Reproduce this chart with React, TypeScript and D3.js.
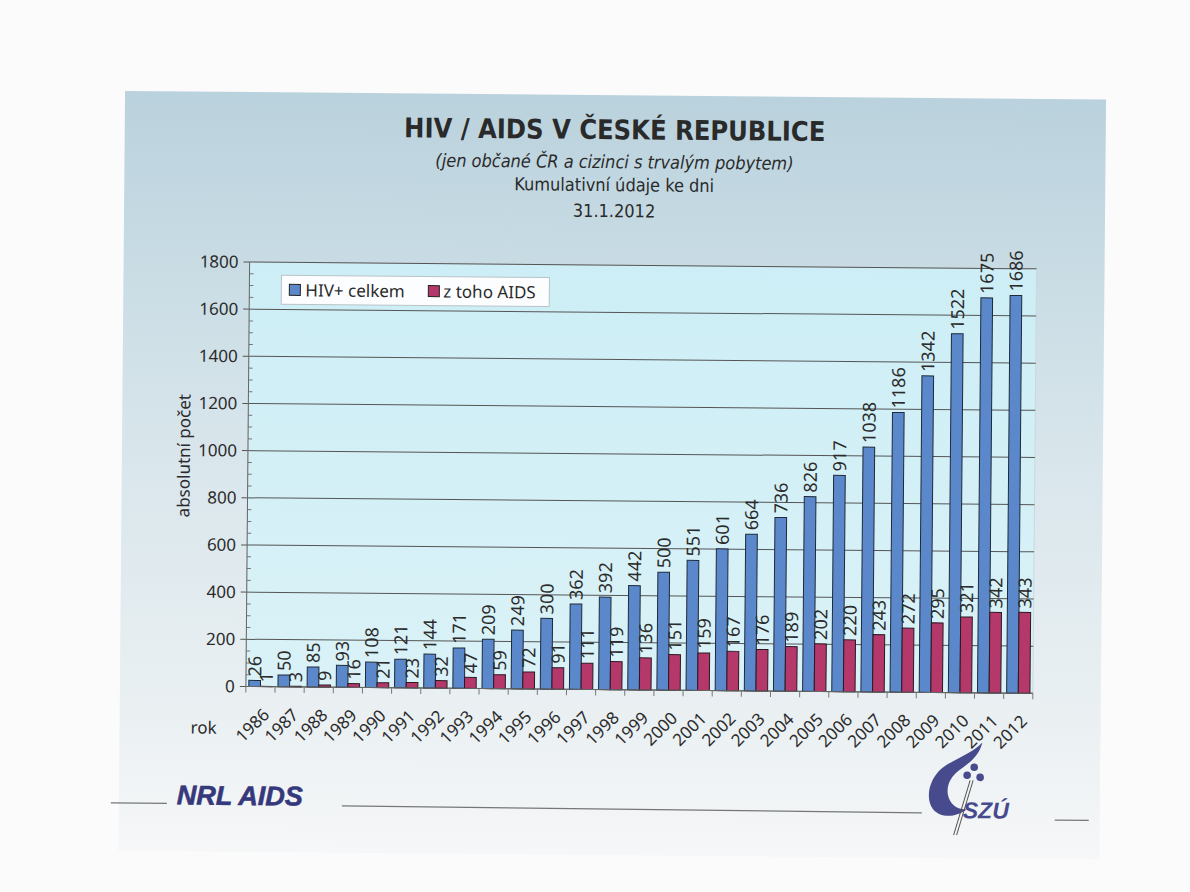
import React from "react";
import * as d3 from "d3";

const years = ["1986","1987","1988","1989","1990","1991","1992","1993","1994","1995","1996","1997","1998","1999","2000","2001","2002","2003","2004","2005","2006","2007","2008","2009","2010","2011","2012"];
const hivTotal = [26,50,85,93,108,121,144,171,209,249,300,362,392,442,500,551,601,664,736,826,917,1038,1186,1342,1522,1675,1686];
const aidsTotal = [1,3,9,16,21,23,32,47,59,72,91,111,119,136,151,159,167,176,189,202,220,243,272,295,321,342,343];
const yTicks = [0,200,400,600,800,1000,1200,1400,1600,1800];
const seriesNames = ["HIV+ celkem", "z toho AIDS"];
const seriesColors = ["#5b87cb", "#b5386b"];

const W = 1190, H = 892;
const PL = 248, PR = 1035, PT = 265, PB = 689.5;

export default function App() {
  const x = d3.scaleBand<string>().domain(years).range([PL, PR]).paddingInner(0.2).paddingOuter(0.1);
  const inner = d3.scaleBand<string>().domain(["hiv", "aids"]).range([0, x.bandwidth()]);
  const y = d3.scaleLinear().domain([0, 1800]).range([PB, PT]);
  const minor = d3.range(0, 1801, 50).filter((v) => v % 200 !== 0);
  const step = x.step();
  const font = "'Noto Sans', 'Open Sans', sans-serif";
  const condensed = "'DejaVu Sans Condensed', 'Liberation Sans Narrow', 'Noto Sans', sans-serif";
  const textCol = "#2b2b2b";

  return (
    <svg width={W} height={H} style={{ position: "absolute", left: 0, top: 0, background: "#fbfbfb" }}>
      <defs>
        <linearGradient id="card" x1="0" y1="0" x2="0" y2="1">
          <stop offset="0" stopColor="#bad2dd" />
          <stop offset="0.45" stopColor="#d7e5eb" />
          <stop offset="0.85" stopColor="#ecf1f3" />
          <stop offset="1" stopColor="#f6f7f8" />
        </linearGradient>
        <linearGradient id="plot" x1="0" y1="0" x2="0" y2="1">
          <stop offset="0" stopColor="#cdeef6" />
          <stop offset="1" stopColor="#daf2f7" />
        </linearGradient>
      </defs>
      <rect x={0} y={0} width={W} height={H} fill="#fbfbfb" />
      <g transform="rotate(0.5 595 446)">
        <rect x={122} y={95} width={981} height={760} fill="url(#card)" />
        {/* Titles */}
        <text x={612} y={139} textAnchor="middle" fontFamily={condensed} fontWeight="bold" fontSize={27} fill="#2a2a2a">HIV / AIDS V ČESKÉ REPUBLICE</text>
        <text x={612} y={168} textAnchor="middle" fontFamily={condensed} fontStyle="italic" fontSize={18} fill="#2a2a2a">(jen občané ČR a cizinci s trvalým pobytem)</text>
        <text x={612} y={191} textAnchor="middle" fontFamily={condensed} fontSize={18} fill="#2a2a2a">Kumulativní údaje ke dni</text>
        <text x={612} y={217} textAnchor="middle" fontFamily={condensed} fontSize={18} fill="#2a2a2a">31.1.2012</text>

        {/* Plot area */}
        <rect x={PL} y={PT} width={PR - PL} height={PB - PT} fill="url(#plot)" stroke="#c9d9de" strokeWidth={1} />
        {yTicks.map((t) => (
          <g key={t}>
            <line x1={PL - 6} x2={PR} y1={y(t)} y2={y(t)} stroke="#555" strokeWidth={1} />
            <text x={PL - 11} y={y(t)} dy="0.35em" textAnchor="end" fontFamily={font} fontSize={17} fill={textCol}>{t}</text>
          </g>
        ))}
        {minor.map((t) => (
          <line key={t} x1={PL} x2={PL + 4} y1={y(t)} y2={y(t)} stroke="#777" strokeWidth={1} />
        ))}
        <line x1={PL} x2={PL} y1={PT} y2={PB} stroke="#666" strokeWidth={1} />

        {/* Bars */}
        {years.map((yr, i) => {
          const x0 = x(yr)!;
          const bw = inner.bandwidth();
          const xb = x0 + inner("hiv")!;
          const xa = x0 + inner("aids")!;
          return (
            <g key={yr}>
              <rect x={xb} y={y(hivTotal[i])} width={bw} height={PB - y(hivTotal[i])} fill={seriesColors[0]} stroke="#1f2a3a" strokeWidth={1} />
              <rect x={xa} y={y(aidsTotal[i])} width={bw} height={PB - y(aidsTotal[i])} fill={seriesColors[1]} stroke="#2a1a22" strokeWidth={1} />
              <text transform={`translate(${xb + bw / 2},${y(hivTotal[i]) - 4}) rotate(-90)`} dy="0.36em" fontFamily={font} fontSize={18} fill={textCol}>{hivTotal[i]}</text>
              <text transform={`translate(${xa + bw / 2},${y(aidsTotal[i]) - 4}) rotate(-90)`} dy="0.36em" fontFamily={font} fontSize={18} fill={textCol}>{aidsTotal[i]}</text>
            </g>
          );
        })}

        {/* X axis */}
        <line x1={PL} x2={PR} y1={PB} y2={PB} stroke="#666" strokeWidth={1} />
        {d3.range(years.length + 1).map((k) => (
          <line key={k} x1={PL + k * step} x2={PL + k * step} y1={PB} y2={PB + 6} stroke="#777" strokeWidth={1} />
        ))}
        {years.map((yr) => (
          <text key={yr} transform={`translate(${x(yr)! + x.bandwidth() / 2 + 6},${PB + 25}) rotate(-45)`} textAnchor="end" dy="0.35em" fontFamily={font} fontSize={17} fill={textCol}>{yr}</text>
        ))}
        <text x={193} y={737} fontFamily={font} fontSize={17} fill={textCol}>rok</text>
        <text transform={`translate(190,${(PT + PB) / 2 - 18}) rotate(-90)`} textAnchor="middle" fontFamily={font} fontSize={17} fill={textCol}>absolutní počet</text>

        {/* Legend */}
        <rect x={280} y={278} width={268} height={29} fill="#fbfdfe" stroke="#b9c4c8" strokeWidth={1} />
        <rect x={288} y={287} width={11} height={11} fill={seriesColors[0]} stroke="#222" strokeWidth={1} />
        <text x={304} y={293} dy="0.35em" fontFamily={font} fontSize={17} fill={textCol}>{seriesNames[0]}</text>
        <rect x={427} y={287} width={11} height={11} fill={seriesColors[1]} stroke="#222" strokeWidth={1} />
        <text x={442} y={293} dy="0.35em" fontFamily={font} fontSize={17} fill={textCol}>{seriesNames[1]}</text>

        {/* Footer */}
        <line x1={114} x2={170} y1={807} y2={807} stroke="#777" strokeWidth={1.2} />
        <text x={180} y={808} fontFamily="'Liberation Sans', Arial, sans-serif" fontWeight="bold" fontStyle="italic" fontSize={27} fill="#36387c" stroke="#36387c" strokeWidth={0.6}>NRL AIDS</text>
        <line x1={345} x2={925} y1={808} y2={810} stroke="#777" strokeWidth={1.2} />
        <line x1={1058} x2={1092} y1={816} y2={816} stroke="#777" strokeWidth={1.2} />
        {/* SZU logo */}
        <g fill="#474a8c" stroke="none">
          <path d="M985,739 C975,750 958,755 945,765 C932,776 928,795 936,806 C944,816 960,814 970,806 C960,807 953,801 951,792 C949,782 954,773 962,767 C972,760 982,752 985,739 Z" />
          <circle cx={977} cy={764} r={3.8} />
          <circle cx={970} cy={772} r={3.8} />
          <circle cx={983} cy={774} r={3.8} />
        </g>
        <line x1={973} x2={957} y1={777} y2={832} stroke="#555" strokeWidth={1} />
        <line x1={976} x2={960} y1={777} y2={832} stroke="#555" strokeWidth={1} />
        <text x={966} y={815} fontFamily="'Liberation Sans', Arial, sans-serif" fontWeight="bold" fontStyle="italic" fontSize={23} fill="#474a8c">SZÚ</text>
      </g>
    </svg>
  );
}
